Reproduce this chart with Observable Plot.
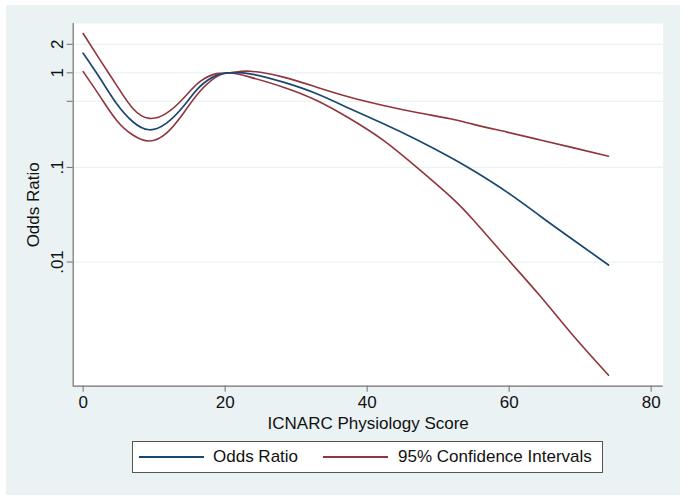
<!DOCTYPE html>
<html><head><meta charset="utf-8">
<script src="https://cdn.jsdelivr.net/npm/d3@7"></script>
<script src="https://cdn.jsdelivr.net/npm/@observablehq/plot@0.6"></script>
<style>
body{margin:0;background:#fff;font-family:"Liberation Sans",Arial,sans-serif;}
#wrap{position:absolute;left:6px;top:5px;width:674px;height:490px;background:#eaf2f3;}
#chart{position:absolute;left:0;top:0;}
#legend{position:absolute;left:126px;top:436px;width:469px;height:30px;background:#fff;border:1px solid #555;display:flex;align-items:center;font-size:17px;color:#111;white-space:nowrap;}
.sw{display:inline-block;width:65px;height:0;border-top:2px solid;}
</style></head><body>
<div id="wrap"><div id="chart"></div>
<div id="legend"><span class="sw" style="border-color:#1a476f;margin-left:6px;margin-right:9px"></span><span>Odds Ratio</span><span class="sw" style="border-color:#90353b;margin-left:25px;margin-right:10px"></span><span>95% Confidence Intervals</span></div>
</div>
<script>
const score = [0, 2.4, 4.7, 7, 9.3, 11.7, 14.1, 16.4, 18.8, 20.7, 23.5, 28.2, 32.9, 37.6, 42.3, 47, 51.7, 55, 59.7, 64.4, 69.1, 74];
const oddsRatio = [1.61, 0.87, 0.474, 0.304, 0.25, 0.292, 0.44, 0.71, 0.94, 1.0, 0.976, 0.796, 0.60, 0.417, 0.289, 0.196, 0.128, 0.092, 0.0548, 0.0305, 0.0170, 0.0093];
const upperCI = [2.60, 1.36, 0.74, 0.42, 0.33, 0.372, 0.535, 0.80, 0.98, 1.0, 1.04, 0.90, 0.705, 0.552, 0.452, 0.381, 0.327, 0.285, 0.236, 0.195, 0.161, 0.1315];
const lowerCI = [1.03, 0.56, 0.316, 0.22, 0.19, 0.229, 0.372, 0.63, 0.91, 1.0, 0.90, 0.705, 0.51, 0.327, 0.193, 0.100, 0.0494, 0.0276, 0.01094, 0.00434, 0.00164, 0.000636];
const xTicks = [0, 20, 40, 60, 80];
const yTicks = [2, 1, 0.5, 0.1, 0.01];
const yTickLabels = ["2", "1", ".5", ".1", ".01"];

const xDomain = [-1.4, 81.7];
const yDomain = [0.000487, 3.32];
const yLabelMap = new Map(yTicks.map((t, i) => [t, yTickLabels[i]]));

const table = [];
score.forEach((s, i) => table.push({x: s, y: upperCI[i], series: "upper"}));
score.forEach((s, i) => table.push({x: s, y: lowerCI[i], series: "lower"}));
score.forEach((s, i) => table.push({x: s, y: oddsRatio[i], series: "or"}));

const chart = Plot.plot({
  width: 674, height: 430,
  marginLeft: 66.7, marginRight: 17.3, marginTop: 18, marginBottom: 49.3,
  style: {background: "transparent", fontFamily: "Liberation Sans, Arial, sans-serif", fontSize: "17px", color: "#111"},
  x: {domain: xDomain},
  y: {type: "log", domain: yDomain},
  marks: [
    Plot.frame({fill: "white", stroke: null}),
    Plot.gridY(yTicks, {stroke: "#eaf2f3", strokeOpacity: 1, strokeWidth: 1.3}),
    Plot.line(table.filter(d => d.series !== "or"), {x: "x", y: "y", z: "series", stroke: "#90353b", strokeWidth: 1.6, curve: "natural"}),
    Plot.line(table.filter(d => d.series === "or"), {x: "x", y: "y", stroke: "#1a476f", strokeWidth: 1.7, curve: "natural"}),
    Plot.ruleX([xDomain[0]], {stroke: "#707070", strokeWidth: 1.2}),
    Plot.ruleY([yDomain[0]], {stroke: "#707070", strokeWidth: 1.2}),
    Plot.axisX(xTicks, {tickSize: 6, tickPadding: 4, label: null, stroke: "#707070", fill: "#111", fontSize: 17}),
    Plot.axisY(yTicks, {tickSize: 6, tickPadding: 4, tickRotate: -90, tickFormat: d => yLabelMap.get(d), label: null, stroke: "#707070", fill: "#111", fontSize: 17}),
    Plot.text(["Odds Ratio"], {text: d => d, frameAnchor: "left", dx: -40, rotate: -90, textAnchor: "middle", lineAnchor: "middle", fontSize: 17, fill: "#111"}),
    Plot.text(["ICNARC Physiology Score"], {text: d => d, frameAnchor: "bottom", dy: 37, textAnchor: "middle", lineAnchor: "middle", fontSize: 17, fill: "#111"})
  ]
});
document.getElementById("chart").appendChild(chart);
</script>
</body></html>
